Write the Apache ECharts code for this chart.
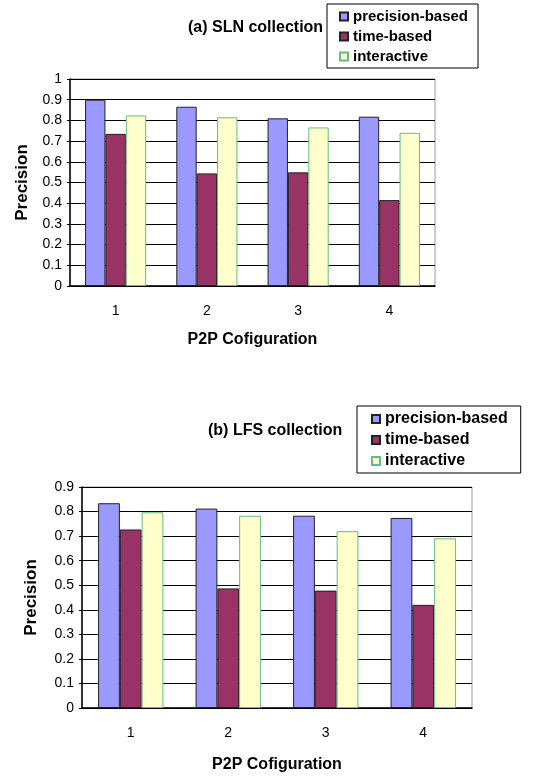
<!DOCTYPE html>
<html>
<head>
<meta charset="utf-8">
<script src="https://cdn.jsdelivr.net/npm/echarts@6/dist/echarts.min.js"></script>
<style>
html, body { margin: 0; padding: 0; background: #fff; }
#chart { width: 546px; height: 778px; }
</style>
</head>
<body>
<div id="chart"></div>
<script>
var categories = ['1', '2', '3', '4'];
var seriesNames = ['precision-based', 'time-based', 'interactive'];
// (a) SLN collection
var slnPrecision = [0.90, 0.866, 0.81, 0.818];
var slnTime = [0.735, 0.544, 0.549, 0.415];
var slnInteractive = [0.824, 0.815, 0.766, 0.74];
// (b) LFS collection
var lfsPrecision = [0.834, 0.812, 0.783, 0.774];
var lfsTime = [0.727, 0.487, 0.478, 0.42];
var lfsInteractive = [0.797, 0.783, 0.72, 0.691];

var FONT = 'Arial, "Liberation Sans", sans-serif';
var styles = [
    { color: '#9999FF', borderColor: '#222', borderWidth: 1 },
    { color: '#993366', borderColor: '#222', borderWidth: 1 },
    { color: '#FFFFCC', borderColor: '#66BB88', borderWidth: 1 }
];

function bars(idx, values) {
    return values.map(function (v, i) {
        return {
            name: seriesNames[i],
            type: 'bar',
            xAxisIndex: idx,
            yAxisIndex: idx,
            data: v,
            barGap: '0%',
            barCategoryGap: '33%',
            itemStyle: styles[i],
            animation: false
        };
    });
}

function xAxis(idx, nameGap) {
    return {
        type: 'category',
        gridIndex: idx,
        data: categories,
        name: 'P2P Cofiguration',
        nameLocation: 'middle',
        nameGap: nameGap,
        nameTextStyle: { fontFamily: FONT, fontWeight: 'bold', fontSize: 16, color: '#000' },
        axisLine: { lineStyle: { color: '#000', width: 1.5 } },
        axisTick: { inside: true, length: 4, lineStyle: { color: '#000' } },
        axisLabel: { fontFamily: FONT, fontSize: 14, color: '#000', margin: 18 }
    };
}

function yAxis(idx, max, gap) {
    return {
        type: 'value',
        gridIndex: idx,
        min: 0,
        max: max,
        interval: 0.1,
        name: 'Precision',
        nameLocation: 'middle',
        nameRotate: 90,
        nameGap: gap,
        nameTextStyle: { fontFamily: FONT, fontWeight: 'bold', fontSize: 17, color: '#000' },
        axisLine: { show: true, lineStyle: { color: '#000', width: 1.5 } },
        axisTick: { show: true, length: 3, lineStyle: { color: '#000' } },
        axisLabel: {
            fontFamily: FONT, fontSize: 14, color: '#000', margin: 8,
            formatter: function (v) { return String(+v.toFixed(1)); }
        },
        splitLine: { lineStyle: { color: '#000', width: 1 } }
    };
}

function legend(left, top, fontSize, gap, padding) {
    return {
        data: seriesNames,
        orient: 'vertical',
        left: left,
        top: top,
        icon: 'rect',
        itemWidth: 8,
        itemHeight: 8,
        itemGap: gap,
        padding: padding,
        borderColor: '#000',
        borderWidth: 1,
        backgroundColor: '#fff',
        selectedMode: false,
        textStyle: { fontFamily: FONT, fontWeight: 'bold', fontSize: fontSize, color: '#000' }
    };
}

var chart = echarts.init(document.getElementById('chart'));
chart.setOption({
    backgroundColor: '#fff',
    animation: false,
    title: [
        { text: '(a) SLN collection', left: 183, top: 15,
          textStyle: { fontFamily: FONT, fontWeight: 'bold', fontSize: 16, color: '#000' } },
        { text: '(b) LFS collection', left: 203, top: 418,
          textStyle: { fontFamily: FONT, fontWeight: 'bold', fontSize: 16, color: '#000' } }
    ],
    legend: [
        legend(327, 4, 15, 5, [5, 10, 4, 12]),
        legend(357, 406, 16, 5, [5, 13, 4, 14])
    ],
    grid: [
        { left: 70, top: 79, width: 365, height: 207, show: true, borderColor: '#999', borderWidth: 1, backgroundColor: '#fff' },
        { left: 82, top: 487, width: 390, height: 221, show: true, borderColor: '#999', borderWidth: 1, backgroundColor: '#fff' }
    ],
    xAxis: [xAxis(0, 46), xAxis(1, 49)],
    yAxis: [yAxis(0, 1, 39), yAxis(1, 0.9, 42)],
    series: bars(0, [slnPrecision, slnTime, slnInteractive])
        .concat(bars(1, [lfsPrecision, lfsTime, lfsInteractive]))
});
</script>
</body>
</html>
